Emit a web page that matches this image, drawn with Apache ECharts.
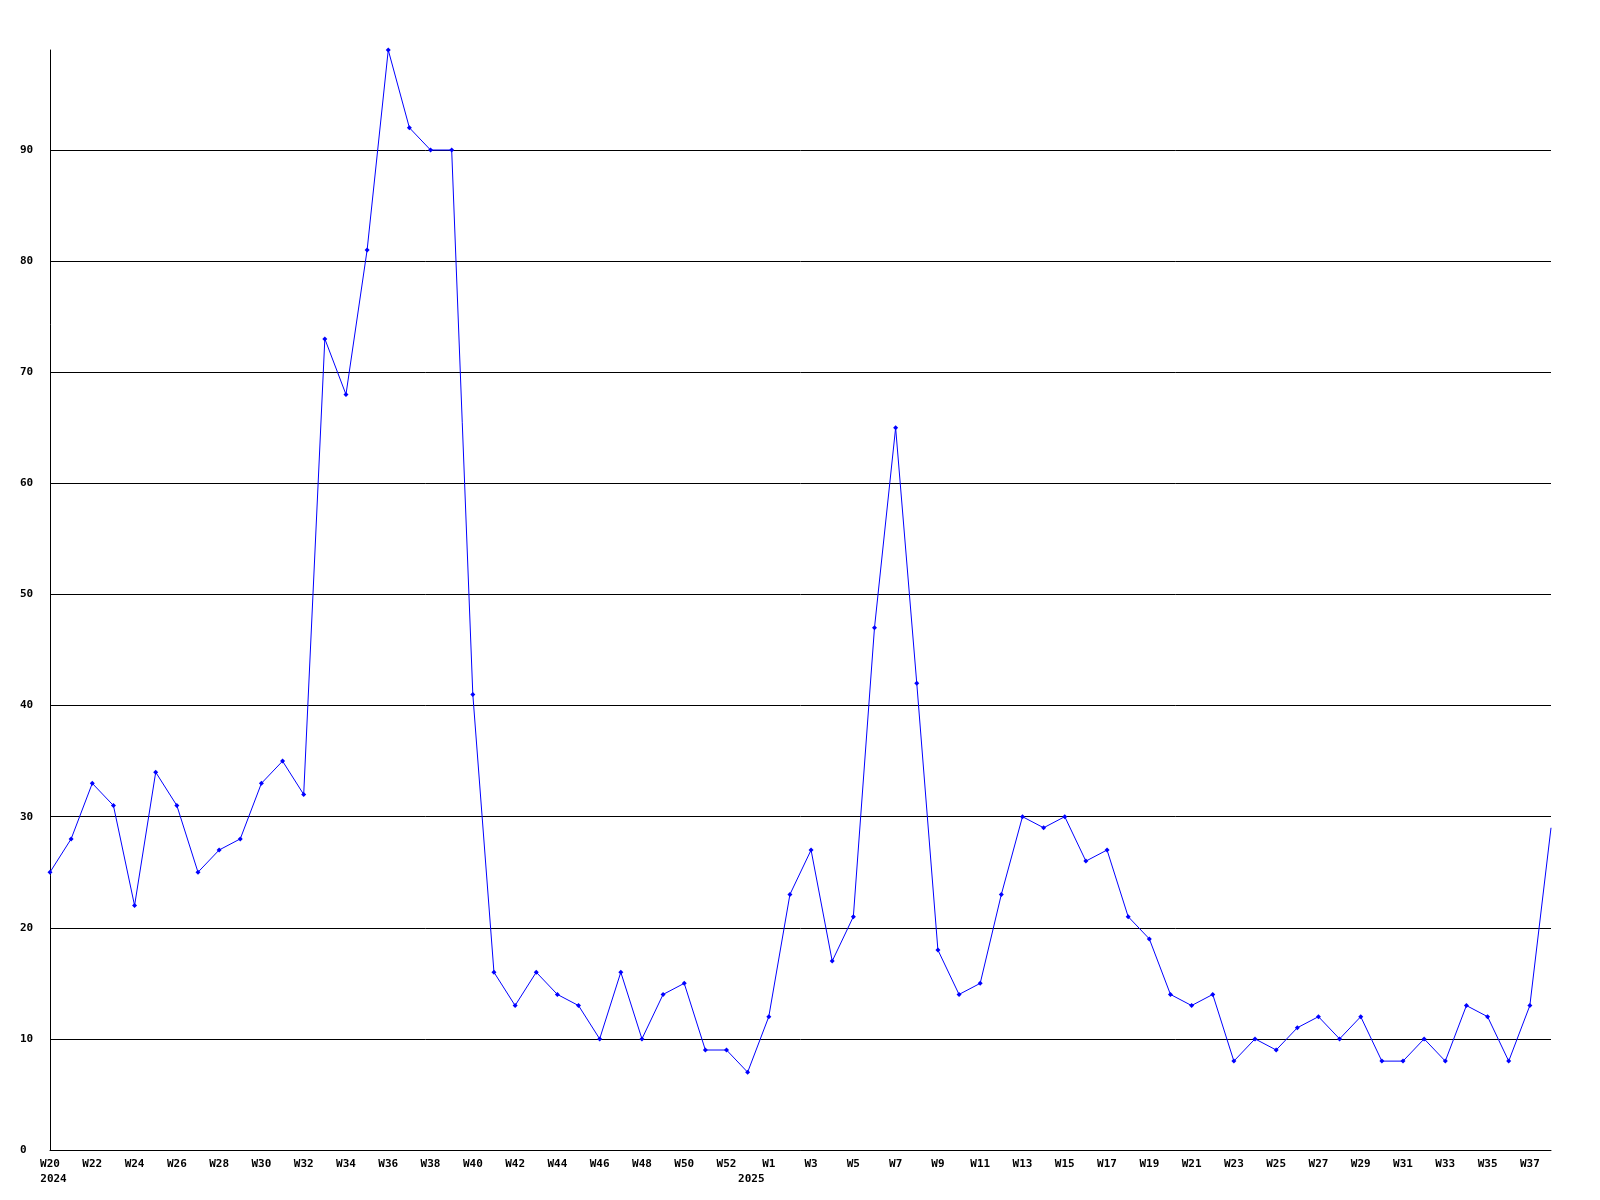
<!DOCTYPE html>
<html>
<head>
<meta charset="utf-8">
<script src="https://cdn.jsdelivr.net/npm/echarts@6/dist/echarts.min.js"></script>
<style>
html, body { margin: 0; padding: 0; background: #fff; }
#chart { width: 1600px; height: 1200px; }
</style>
</head>
<body>
<div id="chart"></div>
<script>
// weeks: W20..W53 of 2024, then W1..W38 of 2025
const weeks2024 = [];
for (let w = 20; w <= 53; w++) weeks2024.push('W' + w);
const weeks2025 = [];
for (let w = 1; w <= 38; w++) weeks2025.push('W' + w);
const categories = weeks2024.concat(weeks2025);
const yearLabels = { 0: '2024', 34: '2025' };

const values = [
    25, 28, 33, 31, 22, 34, 31, 25, 27, 28, 33, 35, 32, 73, 68, 81, 99, 92, 90, 90,
    41, 16, 13, 16, 14, 13, 10, 16, 10, 14, 15, 9, 9, 7,
    12, 23, 27, 17, 21, 47, 65, 42, 18, 14, 15, 23, 30, 29, 30, 26, 27, 21, 19, 14,
    13, 14, 8, 10, 9, 11, 12, 10, 12, 8, 8, 10, 8, 13, 12, 8, 13, 29
];

const yMax = 99;
const yInterval = 10;

const labelFont = {
    fontFamily: 'DejaVu Sans Mono',
    fontWeight: 'bold',
    fontSize: 11,
    color: '#000'
};

const chart = echarts.init(document.getElementById('chart'));
chart.setOption({
    animation: false,
    backgroundColor: '#fff',
    grid: {
        left: 50,
        right: 49,
        top: 50,
        bottom: 50
    },
    xAxis: {
        type: 'category',
        data: categories,
        boundaryGap: false,
        axisLine: { lineStyle: { color: '#000', width: 1 } },
        axisTick: { show: false },
        axisLabel: Object.assign({}, labelFont, {
            interval: 1,
            margin: 7,
            lineHeight: 15,
            formatter: (v, i) => {
                if (i === 0) return v + '\n{y0|' + yearLabels[i] + '}';
                if (i === 34) return v + '\n{y1|' + yearLabels[i] + '}';
                return v;
            },
            rich: {
                y0: Object.assign({}, labelFont, { lineHeight: 15, padding: [0, 0, 0, 7] }),
                y1: Object.assign({}, labelFont, { lineHeight: 15, padding: [0, 35, 0, 0] })
            }
        }),
        splitLine: { show: false }
    },
    yAxis: {
        type: 'value',
        min: 0,
        max: yMax,
        interval: yInterval,
        axisLine: { show: true, lineStyle: { color: '#000', width: 1 } },
        axisTick: { show: false },
        axisLabel: Object.assign({}, labelFont, {
            align: 'left',
            margin: 30,
            showMaxLabel: false,
            formatter: v => (v % yInterval === 0 ? String(v) : '')
        }),
        splitLine: {
            show: true,
            showMaxLine: false,
            lineStyle: { color: '#000', width: 1 }
        }
    },
    series: [
        {
            type: 'line',
            data: values,
            symbol: (v, p) => (p.dataIndex === values.length - 1 ? 'none' : 'diamond'),
            symbolSize: 5,
            showAllSymbol: true,
            lineStyle: { color: '#0000ff', width: 1 },
            itemStyle: { color: '#0000ff' }
        }
    ]
});
</script>
</body>
</html>
